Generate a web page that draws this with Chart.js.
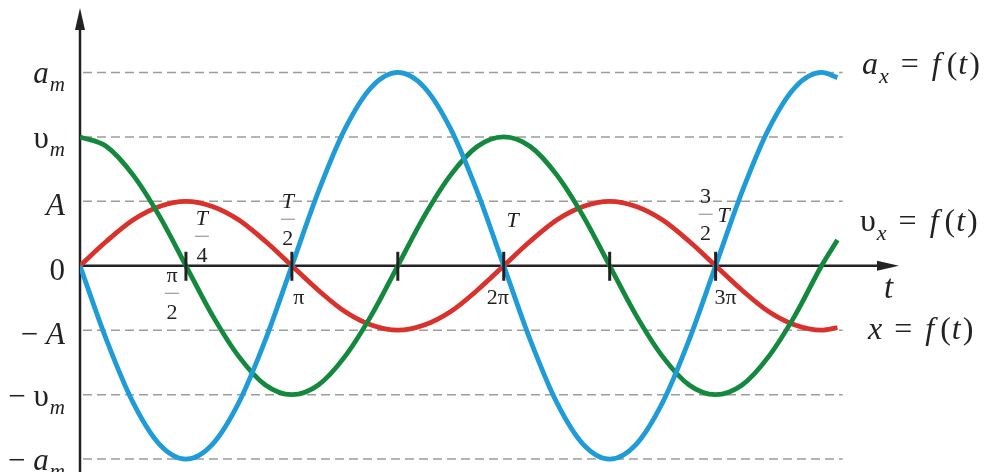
<!DOCTYPE html>
<html>
<head>
<meta charset="utf-8">
<script src="https://cdn.jsdelivr.net/npm/chart.js@4.4.1/dist/chart.umd.min.js"></script>
<style>
  html, body { margin: 0; background: #fff; }
  #wrap { width: 987px; height: 472px; }
</style>
</head>
<body>
<div id="wrap"><canvas id="oscChart" width="987" height="472"></canvas></div>
<script>
// time, in quarter periods (1 = pi/2)
const tValues = [0, 0.25, 0.5, 0.75, 1, 1.25, 1.5, 1.75, 2, 2.25, 2.5, 2.75, 3, 3.25, 3.5, 3.75,
    4, 4.25, 4.5, 4.75, 5, 5.25, 5.5, 5.75, 6, 6.25, 6.5, 6.75, 7, 7.15];
// x = f(t), in units of A
const displacement = [0, 0.38, 0.71, 0.92, 1, 0.92, 0.71, 0.38, 0, -0.38, -0.71, -0.92, -1, -0.92, -0.71, -0.38,
    0, 0.38, 0.71, 0.92, 1, 0.92, 0.71, 0.38, 0, -0.38, -0.71, -0.92, -1, -0.96];
// v = f(t), v_m = 2
const velocity = [2, 1.85, 1.41, 0.77, 0, -0.77, -1.41, -1.85, -2, -1.85, -1.41, -0.77, 0, 0.77, 1.41, 1.85,
    2, 1.85, 1.41, 0.77, 0, -0.77, -1.41, -1.85, -2, -1.85, -1.41, -0.77, 0, 0.4];
// a = f(t), a_m = 3
const acceleration = [0, -1.15, -2.12, -2.77, -3, -2.77, -2.12, -1.15, 0, 1.15, 2.12, 2.77, 3, 2.77, 2.12, 1.15,
    0, -1.15, -2.12, -2.77, -3, -2.77, -2.12, -1.15, 0, 1.15, 2.12, 2.77, 3, 2.92];

// left-hand levels: value, main symbol, subscript
const levelValues = [3, 2, 1, 0, -1, -2, -3];
const levelMain = ['a', 'υ', 'A', '0', '− A', '− υ', '− a'];
const levelSub = ['m', 'm', '', '', '', 'm', 'm'];

// axis ticks at every pi/2
const tickPositions = [1, 2, 3, 4, 5, 6];

const serif = '"Liberation Serif", "DejaVu Serif", serif';
const I = s => 'italic ' + s + 'px ' + serif;
const R = s => s + 'px ' + serif;
const ink = '#222';

function toPoints(ys) {
    return tValues.map((t, i) => ({ x: t, y: ys[i] }));
}

// draw a row of text pieces [text, font, dy, gapBefore]
function runs(ctx, x, y, parts, align) {
    let w = 0;
    parts.forEach(p => { ctx.font = p[1]; w += ctx.measureText(p[0]).width + (p[3] || 0); });
    let cx = align === 'right' ? x - w : x;
    parts.forEach(p => {
        ctx.font = p[1];
        cx += p[3] || 0;
        ctx.fillText(p[0], cx, y + (p[2] || 0));
        cx += ctx.measureText(p[0]).width;
    });
}

function fraction(ctx, cx, cy, top, bottom, topFont) {
    ctx.textAlign = 'center';
    ctx.textBaseline = 'middle';
    ctx.font = topFont;
    ctx.fillText(top, cx, cy - 17);
    ctx.font = R(22);
    ctx.fillText(bottom, cx, cy + 20);
    ctx.strokeStyle = '#999';
    ctx.lineWidth = 1.2;
    ctx.beginPath();
    ctx.moveTo(cx - 7, cy + 0.5);
    ctx.lineTo(cx + 7, cy + 0.5);
    ctx.stroke();
    ctx.textAlign = 'left';
    ctx.textBaseline = 'alphabetic';
}

const axesPlugin = {
    id: 'axesPlugin',
    beforeDatasetsDraw(chart) {
        const ctx = chart.ctx;
        const xs = chart.scales.x, ys = chart.scales.y;
        const x0 = xs.getPixelForValue(0), y0 = ys.getPixelForValue(0);
        ctx.save();
        // dashed level lines
        ctx.strokeStyle = '#9c9c9c';
        ctx.lineWidth = 1.5;
        ctx.setLineDash([9, 5]);
        levelValues.forEach(v => {
            if (v === 0) return;
            const y = ys.getPixelForValue(v);
            ctx.beginPath();
            ctx.moveTo(x0 + 3, y);
            ctx.lineTo(xs.getPixelForValue(7.2), y);
            ctx.stroke();
        });
        ctx.setLineDash([]);
        // axes with arrows
        ctx.strokeStyle = ink;
        ctx.fillStyle = ink;
        ctx.lineWidth = 2.5;
        const top = chart.chartArea.top, right = chart.chartArea.right - 2;
        ctx.beginPath();
        ctx.moveTo(x0, chart.height);
        ctx.lineTo(x0, top + 14);
        ctx.moveTo(x0, y0);
        ctx.lineTo(right - 14, y0);
        ctx.stroke();
        ctx.beginPath();
        ctx.moveTo(x0, top);
        ctx.lineTo(x0 - 5, top + 22);
        ctx.lineTo(x0 + 5, top + 22);
        ctx.closePath();
        ctx.fill();
        ctx.beginPath();
        ctx.moveTo(right, y0);
        ctx.lineTo(right - 22, y0 - 5);
        ctx.lineTo(right - 22, y0 + 5);
        ctx.closePath();
        ctx.fill();
        ctx.restore();
    },
    afterDatasetsDraw(chart) {
        const ctx = chart.ctx;
        const xs = chart.scales.x, ys = chart.scales.y;
        const y0 = ys.getPixelForValue(0);
        ctx.save();
        // tick marks
        ctx.strokeStyle = ink;
        ctx.lineWidth = 3;
        tickPositions.forEach(t => {
            const x = xs.getPixelForValue(t);
            ctx.beginPath();
            ctx.moveTo(x, y0 - 14);
            ctx.lineTo(x, y0 + 15);
            ctx.stroke();
        });
        ctx.fillStyle = ink;
        // level labels
        levelValues.forEach((v, i) => {
            const main = levelMain[i];
            const sym = main.replace('− ', '');
            const small = (sym === 'a' || sym === 'υ');
            const y = ys.getPixelForValue(v) + (small ? 11 : 14);
            const parts = [];
            if (main.startsWith('− ')) parts.push(['− ', R(31)]);
            parts.push([sym, (sym === 'υ' || sym === '0') ? R(31) : I(31)]);
            if (levelSub[i]) parts.push([levelSub[i], I(21), 8, 1]);
            runs(ctx, 65, y, parts, 'right');
        });
        // tick annotations
        const px = t => xs.getPixelForValue(t);
        fraction(ctx, px(1) - 14, y0 + 27, 'π', '2', R(22));
        fraction(ctx, px(1) + 16, y0 - 30, 'T', '4', I(22));
        fraction(ctx, px(2) - 4, y0 - 47, 'T', '2', I(22));
        ctx.textAlign = 'center';
        ctx.textBaseline = 'middle';
        ctx.font = R(22);
        ctx.fillText('π', px(2) + 7, y0 + 32);
        ctx.fillText('2π', px(4) - 6, y0 + 32);
        ctx.fillText('3π', px(6) + 10, y0 + 32);
        ctx.font = I(22);
        ctx.fillText('T', px(4) + 9, y0 - 45);
        fraction(ctx, px(6) - 10, y0 - 52, '3', '2', R(22));
        ctx.font = I(22);
        ctx.textAlign = 'center';
        ctx.textBaseline = 'middle';
        ctx.fillText('T', px(6) + 8, y0 - 50);
        ctx.textAlign = 'left';
        ctx.textBaseline = 'alphabetic';
        // t axis name
        ctx.font = I(33);
        ctx.fillText('t', 884, y0 + 32);
        // curve names
        const eq = [['=', R(32), 0, 12], ['f', I(32), 0, 13], ['(', R(32), 0, 6], ['t', I(32), 0, 1], [')', R(32), 0, 2]];
        runs(ctx, 862, ys.getPixelForValue(3) + 2, [['a', I(32)], ['x', I(22), 9, 1]].concat(eq));
        runs(ctx, 860, y0 - 35, [['υ', R(32)], ['x', I(22), 9, 1]].concat(eq));
        runs(ctx, 868, y0 + 73, [['x', I(32)]].concat(eq));
        ctx.restore();
    }
};

new Chart(document.getElementById('oscChart').getContext('2d'), {
    type: 'line',
    data: {
        datasets: [{
            label: 'a = f(t)',
            data: toPoints(acceleration),
            borderColor: '#1f9bd7',
            borderWidth: 4.8
        }, {
            label: 'v = f(t)',
            data: toPoints(velocity),
            borderColor: '#13893d',
            borderWidth: 4.8
        }, {
            label: 'x = f(t)',
            data: toPoints(displacement),
            borderColor: '#d9322c',
            borderWidth: 4.8
        }]
    },
    options: {
        responsive: false,
        animation: false,
        devicePixelRatio: 1,
        layout: { padding: { left: 80, top: 8, right: 86, bottom: 0 } },
        elements: {
            point: { radius: 0 },
            line: { cubicInterpolationMode: 'monotone', fill: false, borderCapStyle: 'butt', borderJoinStyle: 'round' }
        },
        plugins: { legend: { display: false }, tooltip: { enabled: false } },
        scales: {
            x: { type: 'linear', min: 0, max: 7.75, display: false },
            y: { min: -3.2, max: 4, display: false }
        }
    },
    plugins: [axesPlugin]
});
</script>
</body>
</html>
